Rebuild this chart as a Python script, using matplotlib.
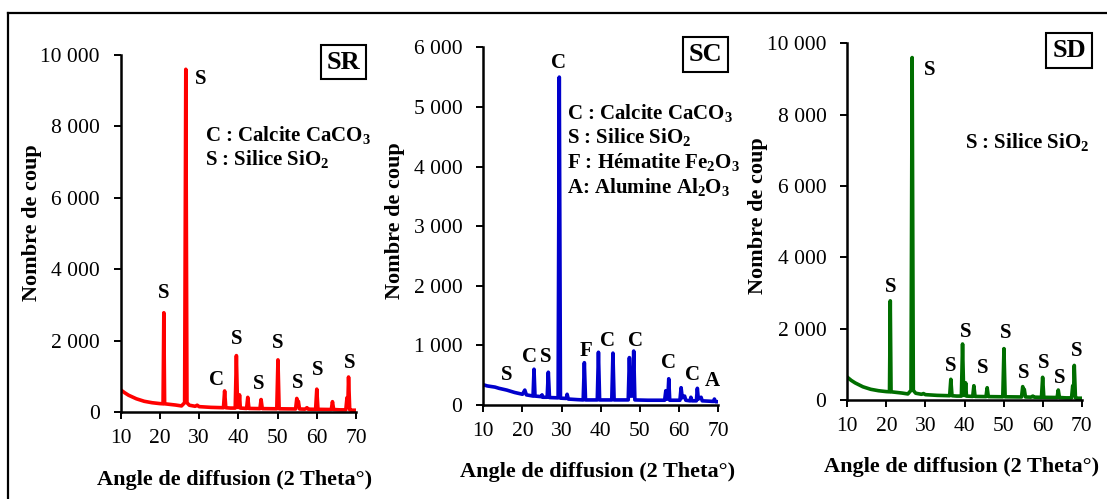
import matplotlib
matplotlib.use('Agg')
import matplotlib.pyplot as plt
from matplotlib.lines import Line2D
from matplotlib.ticker import FuncFormatter

plt.rcParams['font.family'] = 'Liberation Serif'
plt.rcParams['mathtext.fontset'] = 'custom'
plt.rcParams['mathtext.rm'] = 'Liberation Serif:bold'
plt.rcParams['mathtext.it'] = 'Liberation Serif:bold:italic'
plt.rcParams['mathtext.bf'] = 'Liberation Serif:bold'

# --- data (2 theta in degrees, counts) ---
sr_x = [10, 11, 12, 14, 16, 18, 20, 20.8, 21.0, 21.2, 22, 24, 25.5, 26.3, 26.6, 26.9,
        27.5, 29, 29.5, 30, 33, 36.2, 36.5, 36.8, 38, 39.2, 39.5, 39.8, 40.1, 40.3,
        40.5, 42.1, 42.4, 42.7, 45.5, 45.8, 46.1, 49.8, 50.1, 50.4, 54.6, 54.9, 55.1,
        55.3, 55.6, 57, 57.5, 57.8, 59.7, 60.0, 60.3, 63.7, 64.0, 64.3, 66, 67.4, 67.7,
        67.9, 68.1, 68.4, 68.7, 70]
sr_y = [620, 540, 470, 370, 300, 260, 235, 230, 2780, 230, 220, 195, 170, 260, 9600, 260,
        190, 160, 190, 150, 130, 120, 590, 120, 110, 110, 1580, 130, 130, 480,
        110, 100, 410, 100, 95, 350, 95, 90, 1460, 90, 85, 380, 200,
        300, 85, 80, 120, 80, 75, 640, 75, 70, 290, 70, 60, 60, 400,
        150, 980, 60, 50, 50]

sc_x = [10, 11, 12, 13, 14, 16, 18, 20, 20.6, 21.0, 22.7, 22.95, 23.2, 24.8, 25, 25.2,
        26.3, 26.6, 26.9, 29.1, 29.4, 29.7, 31.2, 31.4, 31.7, 34, 35.5, 35.8, 36.1,
        39.1, 39.4, 39.7, 42.8, 43.1, 43.4, 47.0, 47.3, 47.6, 48.1, 48.4, 48.7, 52,
        56.3, 56.6, 56.9, 57.1, 57.35, 57.6, 60.2, 60.5, 60.8, 61.4, 61.7, 62.8, 63.0,
        63.3, 64.4, 64.65, 64.9, 65.6, 65.9, 68.8, 69, 69.3, 70]
sc_y = [340, 320, 310, 300, 280, 250, 210, 180, 250, 170, 150, 600, 150, 140, 170, 130,
        130, 550, 125, 120, 5500, 115, 110, 180, 100, 90, 85, 710, 85,
        85, 885, 85, 85, 870, 85, 85, 795, 150, 150, 905, 85, 80,
        80, 240, 100, 100, 440, 80, 80, 290, 120, 150, 80, 70, 130,
        70, 70, 280, 100, 130, 70, 60, 100, 55, 55]

sd_x = [10, 11, 12, 14, 16, 18, 20, 20.8, 21.0, 21.2, 22, 24, 25.5, 26.3, 26.6, 26.9,
        27.5, 29, 29.5, 30, 33, 36.2, 36.5, 36.8, 38, 39.2, 39.5, 39.8, 40.1, 40.3,
        40.5, 42.1, 42.4, 42.7, 45.5, 45.8, 46.1, 49.8, 50.1, 50.4, 54.6, 54.9, 55.1,
        55.3, 55.6, 57, 57.5, 57.8, 59.7, 60.0, 60.3, 63.7, 64.0, 64.3, 66, 67.4, 67.7,
        67.9, 68.1, 68.4, 68.7, 70]
sd_y = [640, 550, 480, 370, 300, 260, 235, 230, 2780, 230, 220, 195, 170, 270, 9600, 270,
        190, 160, 180, 150, 130, 120, 580, 120, 110, 110, 1570, 130, 130, 480,
        110, 100, 400, 100, 95, 345, 95, 90, 1440, 90, 85, 375, 200,
        300, 85, 80, 110, 80, 75, 636, 75, 70, 280, 70, 60, 60, 400,
        150, 970, 60, 50, 50]

# peak labels: (x, y, text)
sr_marks = [(21.05, 3320, 'S'), (30.4, 9320, 'S'), (34.5, 900, 'C'), (39.6, 2050, 'S'),
            (45.1, 780, 'S'), (50.05, 1940, 'S'), (55.05, 820, 'S'), (60.2, 1180, 'S'),
            (68.5, 1380, 'S')]
sc_marks = [(16.0, 503, 'S'), (21.9, 800, 'C'), (25.9, 800, 'S'), (29.3, 5730, 'C'),
            (36.2, 906, 'F'), (41.6, 1079, 'C'), (48.9, 1079, 'C'), (57.4, 710, 'C'),
            (63.5, 503, 'C'), (68.5, 408, 'A')]
sd_marks = [(21.1, 3177, 'S'), (31.0, 9250, 'S'), (36.5, 960, 'S'), (40.2, 1915, 'S'),
            (44.65, 890, 'S'), (50.6, 1890, 'S'), (55.1, 765, 'S'), (60.2, 1045, 'S'),
            (64.3, 625, 'S'), (68.7, 1380, 'S')]

sr_legend = ['C : Calcite CaCO$_3$', 'S : Silice SiO$_2$']
sc_legend = ['C : Calcite CaCO$_3$', 'S : Silice SiO$_2$', 'F : Hématite Fe$_2$O$_3$',
             'A: Alumine Al$_2$O$_3$']
sd_legend = ['S : Silice SiO$_2$']

W, H = 1107, 499
fig = plt.figure(figsize=(W / 100, H / 100), dpi=100)


def px_rect(x0, x1, ytop, ybot):
    return [x0 / W, 1 - ybot / H, (x1 - x0) / W, (ybot - ytop) / H]


def thousands(v, pos):
    return '{:,}'.format(int(v)).replace(',', ' ')


panels = [
    dict(rect=px_rect(120.7, 356, 55, 412), x=sr_x, y=sr_y, color='#ff0000', ymax=10000,
         ystep=2000, marks=sr_marks, legend=sr_legend, leg_x=31.5, leg_y=[7760, 7100],
         name='SR', ylab=(32, 222.5), xlab=(235, 480)),
    dict(rect=px_rect(483.3, 718.3, 47.3, 405), x=sc_x, y=sc_y, color='#0000cc', ymax=6000,
         ystep=1000, marks=sc_marks, legend=sc_legend, leg_x=31.3,
         leg_y=[4904, 4500, 4072, 3663], name='SC', ylab=(395, 220.8), xlab=(597.5, 471.7)),
    dict(rect=px_rect(847.3, 1081.7, 43.3, 400), x=sd_x, y=sd_y, color='#006e00', ymax=10000,
         ystep=2000, marks=sd_marks, legend=sd_legend, leg_x=40.1, leg_y=[7240],
         name='SD', ylab=(758.3, 215.8), xlab=(961.7, 466.7)),
]

for p in panels:
    ax = fig.add_axes(p['rect'])
    ax.plot(p['x'], p['y'], color=p['color'], lw=2.6, solid_joinstyle='round')
    ax.set_xlim(10, 70)
    ax.set_ylim(0, p['ymax'])
    ax.set_xticks(range(10, 71, 10))
    ax.set_yticks(range(0, p['ymax'] + 1, p['ystep']))
    ax.yaxis.set_major_formatter(FuncFormatter(thousands))
    for s in ['top', 'right']:
        ax.spines[s].set_visible(False)
    for s in ['left', 'bottom']:
        ax.spines[s].set_linewidth(1.8)
    ax.tick_params(axis='both', labelsize=15.5, length=5, width=1.4, direction='out')
    ax.tick_params(axis='y', pad=10)
    ax.tick_params(axis='x', pad=7)
    for mx, my, t in p['marks']:
        ax.text(mx, my, t, ha='center', va='center', fontsize=15, fontweight='bold')
    for line, ly in zip(p['legend'], p['leg_y']):
        ax.text(p['leg_x'], ly, line, ha='left', va='center', fontsize=15, fontweight='bold')
    ax.text(0.946, 0.98, p['name'], transform=ax.transAxes, ha='center', va='center',
            fontsize=19, fontweight='bold', clip_on=False,
            bbox=dict(boxstyle='square,pad=0.22', fc='white', ec='black', lw=1.5))
    fig.text(p['ylab'][0] / W, 1 - p['ylab'][1] / H, 'Nombre de coup', rotation=90,
             ha='center', va='center', fontsize=16, fontweight='bold')
    fig.text(p['xlab'][0] / W, 1 - p['xlab'][1] / H, 'Angle de diffusion (2 Theta°)',
             ha='center', va='center', fontsize=16, fontweight='bold')

# outer frame (top and left edges only)
fig.add_artist(Line2D([8 / W, 1], [1 - 13 / H, 1 - 13 / H], color='black', lw=1.6))
fig.add_artist(Line2D([8 / W, 8 / W], [0, 1 - 13 / H], color='black', lw=1.6))

fig.savefig('out.png', dpi=100)
